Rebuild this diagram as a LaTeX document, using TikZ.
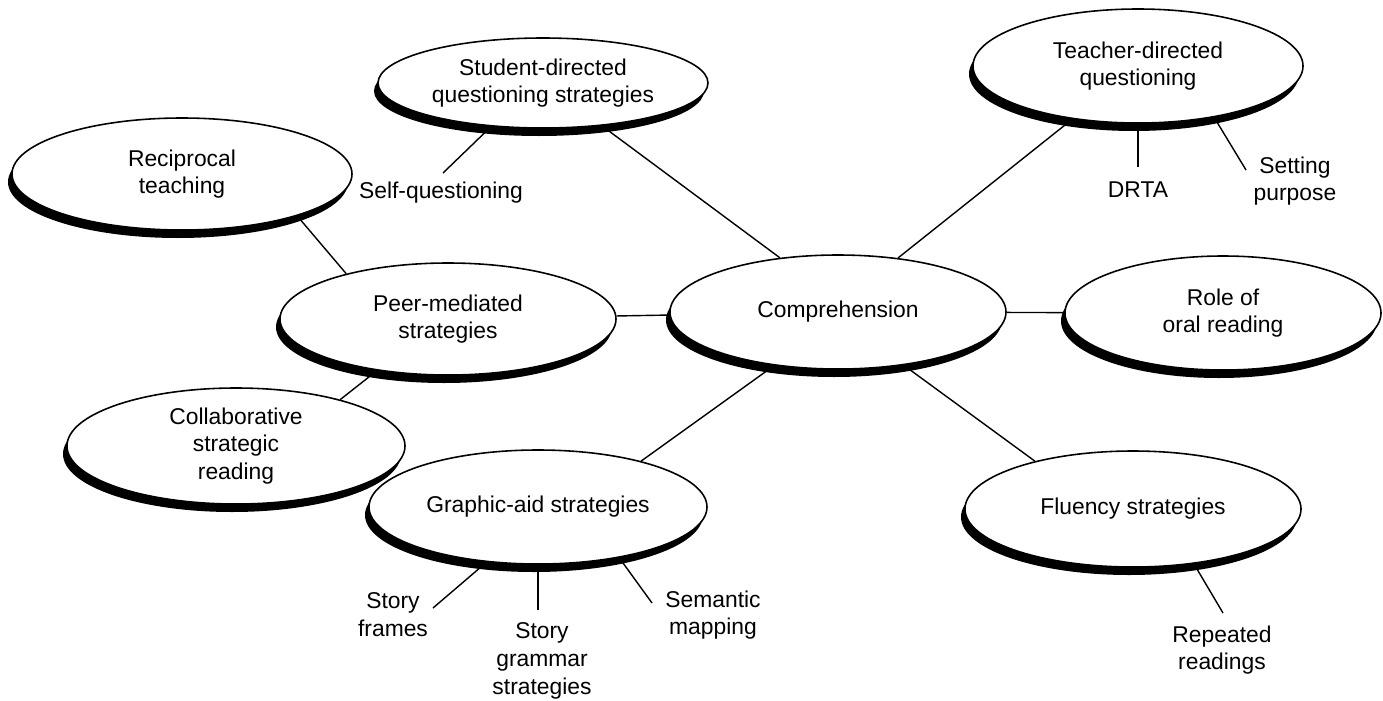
\documentclass[tikz,border=0pt]{standalone}
\usepackage{fontspec}
\setmainfont{Liberation Sans}
\usetikzlibrary{shapes.geometric,shadows}

\begin{document}
\begin{tikzpicture}[x=0.02cm,y=-0.02cm,
    topic/.style={ellipse,draw,fill=white,line width=.9pt,inner sep=0pt,align=center,
      font=\fontsize{13}{15.8}\selectfont,
      drop shadow={shadow xshift=-.08cm,shadow yshift=-.16cm,fill=black,opacity=1}},
    oval/.style 2 args={minimum width=#1*.02cm,minimum height=#2*.02cm},
    leaf/.style={align=center,inner sep=1pt,font=\fontsize{13}{15.8}\selectfont},
    every edge/.style={draw,line width=.8pt}]
  \useasboundingbox (0,0) rectangle (1383,700);

  % main topics
  \node[topic,oval={336}{114}] (comp) at (838,312) {Comprehension};
  \node[topic,oval={330}{90}] (stud) at (543,83) {Student-directed\\questioning strategies};
  \node[topic,oval={330}{114}] (teach) at (1138,66) {Teacher-directed\\questioning};
  \node[topic,oval={340}{112}] (recip) at (182,174) {Reciprocal\\teaching};
  \node[topic,oval={336}{112}] (peer) at (448,319) {Peer-mediated\\strategies};
  \node[topic,oval={316}{114}] (role) at (1223,313) {Role of\\oral reading};
  \node[topic,oval={338}{116}] (collab) at (236,446) {Collaborative\\strategic\\reading};
  \node[topic,oval={338}{114}] (graph) at (538,507) {Graphic-aid strategies};
  \node[topic,oval={336}{116}] (flu) at (1133,509) {Fluency strategies};

  % examples under the topics
  \node[leaf] (selfq) at (441,193) {Self-questioning};
  \node[leaf] (drta) at (1138,190) {DRTA};
  \node[leaf] (setp) at (1295,181) {Setting\\purpose};
  \node[leaf] (sfr) at (393,615) {Story\\frames};
  \node[leaf] (sgr) at (542,661) {Story\\grammar\\strategies};
  \node[leaf] (smap) at (713,615) {Semantic\\mapping};
  \node[leaf] (rep) at (1222,650) {Repeated\\readings};

  \coordinate (selfq-t) at (443,173);
  \coordinate (drta-t) at (1138,167);
  \coordinate (setp-t) at (1246,170);
  \coordinate (sfr-t) at (433,608);
  \coordinate (sgr-t) at (538,610);
  \coordinate (smap-t) at (652,603);
  \coordinate (rep-t) at (1223,613);

  \path
  (comp) edge (peer)
  (comp) edge (role)
  (comp.137) edge (stud.-36)
  (comp.42) edge (teach.-141)
  (comp.-140) edge (graph.24)
  (comp.-39) edge (flu.154)

  (recip.-20) edge (peer.156)
  (peer.-144) edge (collab.24)

  (stud.-140) edge (selfq-t)
  (teach.south) edge (drta-t)
  (teach.-34) edge (setp-t)
  (graph.-133) edge (sfr-t)
  (graph.south) edge (sgr-t)
  (graph.-32) edge (smap-t)
  (flu.-42) edge (rep-t)
  ;
\end{tikzpicture}
\end{document}
